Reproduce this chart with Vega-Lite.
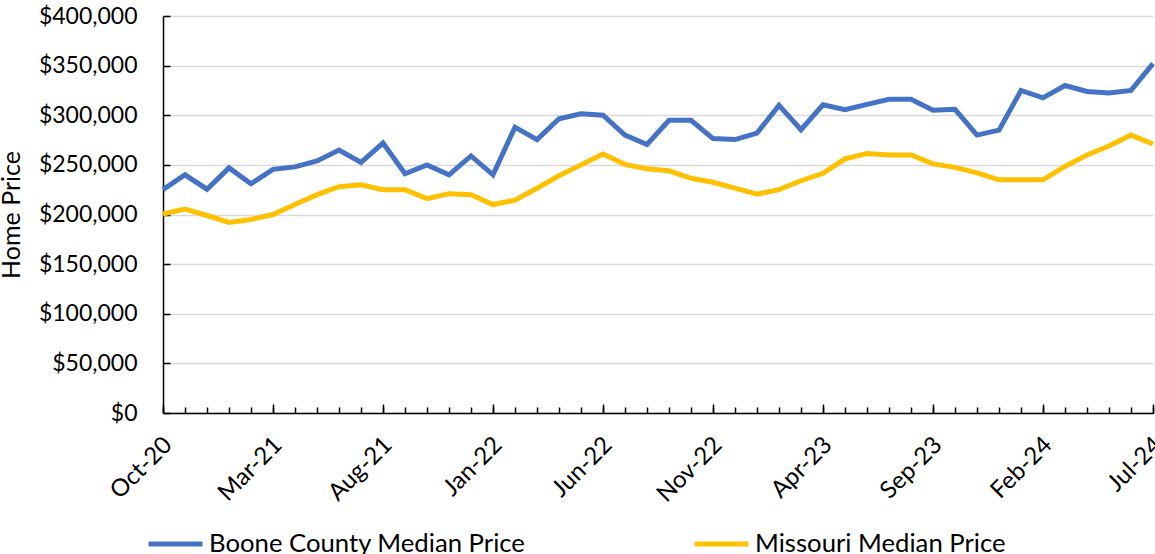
{
  "$schema": "https://vega.github.io/schema/vega-lite/v6.json",
  "autosize": "none",
  "width": 990,
  "height": 397,
  "padding": {"left": 163, "top": 16, "right": 2, "bottom": 141},
  "background": "white",
  "config": {
    "view": {"stroke": null},
    "font": "Lato",
    "axis": {"labelFont": "Lato", "titleFont": "Lato", "labelColor": "#000000", "titleColor": "#000000"}
  },
  "data": {"values": [
    {"month": "Oct-20", "series": "Boone County Median Price", "price": 225000},
    {"month": "Nov-20", "series": "Boone County Median Price", "price": 240000},
    {"month": "Dec-20", "series": "Boone County Median Price", "price": 225500},
    {"month": "Jan-21", "series": "Boone County Median Price", "price": 247000},
    {"month": "Feb-21", "series": "Boone County Median Price", "price": 231000},
    {"month": "Mar-21", "series": "Boone County Median Price", "price": 245500},
    {"month": "Apr-21", "series": "Boone County Median Price", "price": 248000},
    {"month": "May-21", "series": "Boone County Median Price", "price": 254000},
    {"month": "Jun-21", "series": "Boone County Median Price", "price": 265000},
    {"month": "Jul-21", "series": "Boone County Median Price", "price": 252500},
    {"month": "Aug-21", "series": "Boone County Median Price", "price": 272000},
    {"month": "Sep-21", "series": "Boone County Median Price", "price": 241000},
    {"month": "Oct-21", "series": "Boone County Median Price", "price": 250000},
    {"month": "Nov-21", "series": "Boone County Median Price", "price": 240000},
    {"month": "Dec-21", "series": "Boone County Median Price", "price": 259000},
    {"month": "Jan-22", "series": "Boone County Median Price", "price": 240000},
    {"month": "Feb-22", "series": "Boone County Median Price", "price": 288000},
    {"month": "Mar-22", "series": "Boone County Median Price", "price": 275500},
    {"month": "Apr-22", "series": "Boone County Median Price", "price": 296500},
    {"month": "May-22", "series": "Boone County Median Price", "price": 301500},
    {"month": "Jun-22", "series": "Boone County Median Price", "price": 300000},
    {"month": "Jul-22", "series": "Boone County Median Price", "price": 280000},
    {"month": "Aug-22", "series": "Boone County Median Price", "price": 270500},
    {"month": "Sep-22", "series": "Boone County Median Price", "price": 295000},
    {"month": "Oct-22", "series": "Boone County Median Price", "price": 295000},
    {"month": "Nov-22", "series": "Boone County Median Price", "price": 276500},
    {"month": "Dec-22", "series": "Boone County Median Price", "price": 275500},
    {"month": "Jan-23", "series": "Boone County Median Price", "price": 282000},
    {"month": "Feb-23", "series": "Boone County Median Price", "price": 310000},
    {"month": "Mar-23", "series": "Boone County Median Price", "price": 285500},
    {"month": "Apr-23", "series": "Boone County Median Price", "price": 310500},
    {"month": "May-23", "series": "Boone County Median Price", "price": 305500},
    {"month": "Jun-23", "series": "Boone County Median Price", "price": 311000},
    {"month": "Jul-23", "series": "Boone County Median Price", "price": 316000},
    {"month": "Aug-23", "series": "Boone County Median Price", "price": 316000},
    {"month": "Sep-23", "series": "Boone County Median Price", "price": 305000},
    {"month": "Oct-23", "series": "Boone County Median Price", "price": 306000},
    {"month": "Nov-23", "series": "Boone County Median Price", "price": 280000},
    {"month": "Dec-23", "series": "Boone County Median Price", "price": 285000},
    {"month": "Jan-24", "series": "Boone County Median Price", "price": 325000},
    {"month": "Feb-24", "series": "Boone County Median Price", "price": 317500},
    {"month": "Mar-24", "series": "Boone County Median Price", "price": 330000},
    {"month": "Apr-24", "series": "Boone County Median Price", "price": 324000},
    {"month": "May-24", "series": "Boone County Median Price", "price": 322500},
    {"month": "Jun-24", "series": "Boone County Median Price", "price": 325000},
    {"month": "Jul-24", "series": "Boone County Median Price", "price": 352000},
    {"month": "Oct-20", "series": "Missouri Median Price", "price": 200500},
    {"month": "Nov-20", "series": "Missouri Median Price", "price": 205500},
    {"month": "Dec-20", "series": "Missouri Median Price", "price": 199000},
    {"month": "Jan-21", "series": "Missouri Median Price", "price": 192000},
    {"month": "Feb-21", "series": "Missouri Median Price", "price": 195000},
    {"month": "Mar-21", "series": "Missouri Median Price", "price": 200000},
    {"month": "Apr-21", "series": "Missouri Median Price", "price": 210000},
    {"month": "May-21", "series": "Missouri Median Price", "price": 220000},
    {"month": "Jun-21", "series": "Missouri Median Price", "price": 228000},
    {"month": "Jul-21", "series": "Missouri Median Price", "price": 230000},
    {"month": "Aug-21", "series": "Missouri Median Price", "price": 225000},
    {"month": "Sep-21", "series": "Missouri Median Price", "price": 225000},
    {"month": "Oct-21", "series": "Missouri Median Price", "price": 216000},
    {"month": "Nov-21", "series": "Missouri Median Price", "price": 221000},
    {"month": "Dec-21", "series": "Missouri Median Price", "price": 220000},
    {"month": "Jan-22", "series": "Missouri Median Price", "price": 210000},
    {"month": "Feb-22", "series": "Missouri Median Price", "price": 214500},
    {"month": "Mar-22", "series": "Missouri Median Price", "price": 226500},
    {"month": "Apr-22", "series": "Missouri Median Price", "price": 239000},
    {"month": "May-22", "series": "Missouri Median Price", "price": 250000},
    {"month": "Jun-22", "series": "Missouri Median Price", "price": 261000},
    {"month": "Jul-22", "series": "Missouri Median Price", "price": 250500},
    {"month": "Aug-22", "series": "Missouri Median Price", "price": 246000},
    {"month": "Sep-22", "series": "Missouri Median Price", "price": 244000},
    {"month": "Oct-22", "series": "Missouri Median Price", "price": 236500},
    {"month": "Nov-22", "series": "Missouri Median Price", "price": 232500},
    {"month": "Dec-22", "series": "Missouri Median Price", "price": 226500},
    {"month": "Jan-23", "series": "Missouri Median Price", "price": 220500},
    {"month": "Feb-23", "series": "Missouri Median Price", "price": 225000},
    {"month": "Mar-23", "series": "Missouri Median Price", "price": 234000},
    {"month": "Apr-23", "series": "Missouri Median Price", "price": 241500},
    {"month": "May-23", "series": "Missouri Median Price", "price": 256000},
    {"month": "Jun-23", "series": "Missouri Median Price", "price": 261500},
    {"month": "Jul-23", "series": "Missouri Median Price", "price": 260000},
    {"month": "Aug-23", "series": "Missouri Median Price", "price": 260000},
    {"month": "Sep-23", "series": "Missouri Median Price", "price": 251000},
    {"month": "Oct-23", "series": "Missouri Median Price", "price": 247500},
    {"month": "Nov-23", "series": "Missouri Median Price", "price": 242000},
    {"month": "Dec-23", "series": "Missouri Median Price", "price": 235000},
    {"month": "Jan-24", "series": "Missouri Median Price", "price": 235000},
    {"month": "Feb-24", "series": "Missouri Median Price", "price": 235000},
    {"month": "Mar-24", "series": "Missouri Median Price", "price": 248500},
    {"month": "Apr-24", "series": "Missouri Median Price", "price": 260000},
    {"month": "May-24", "series": "Missouri Median Price", "price": 269000},
    {"month": "Jun-24", "series": "Missouri Median Price", "price": 280000},
    {"month": "Jul-24", "series": "Missouri Median Price", "price": 271000}
  ]},
  "encoding": {
    "y": {
      "field": "price",
      "type": "quantitative",
      "scale": {"domain": [0, 400000], "nice": false},
      "axis": {
        "title": "Home Price",
        "titleFontSize": 25,
        "titleFontWeight": "normal",
        "titlePadding": 14,
        "values": [0, 50000, 100000, 150000, 200000, 250000, 300000, 350000, 400000],
        "format": "$,.0f",
        "labelFontSize": 23,
        "labelPadding": 33,
        "tickSize": -7,
        "tickColor": "#000000",
        "tickWidth": 1.5,
        "domainColor": "#000000",
        "domainWidth": 1.5,
        "gridColor": "#D9D9D9",
        "gridWidth": 1.5
      }
    },
    "color": {
      "field": "series",
      "type": "nominal",
      "scale": {"domain": ["Boone County Median Price", "Missouri Median Price"], "range": ["#4472C4", "#FFC000"]},
      "legend": {
        "title": null,
        "orient": "none",
        "legendX": -17,
        "legendY": 498,
        "direction": "horizontal",
        "symbolType": "stroke",
        "symbolSize": 2900,
        "symbolStrokeWidth": 5,
        "labelFontSize": 25.7,
        "labelFont": "Lato",
        "labelColor": "#000000",
        "labelOffset": 4,
        "labelLimit": 500,
        "columnPadding": 158,
        "padding": 0
      }
    }
  },
  "layer": [
    {
      "mark": {"type": "line", "strokeWidth": 5, "strokeJoin": "miter", "strokeCap": "butt", "opacity": 0},
      "encoding": {
        "x": {
          "field": "month",
          "type": "ordinal",
          "sort": null,
          "scale": {"type": "point", "padding": 0},
          "axis": {
            "orient": "bottom",
            "title": null,
            "values": ["Oct-20", "Mar-21", "Aug-21", "Jan-22", "Jun-22", "Nov-22", "Apr-23", "Sep-23", "Feb-24", "Jul-24"],
            "labels": false,
            "domain": false,
            "tickSize": -9,
            "tickColor": "#000000",
            "tickWidth": 1.5,
            "grid": false
          }
        }
      }
    },
    {
      "mark": {"type": "line", "strokeWidth": 5, "strokeJoin": "miter", "strokeCap": "butt"},
      "encoding": {
        "x": {
          "field": "month",
          "type": "ordinal",
          "sort": null,
          "scale": {"type": "point", "padding": 0},
          "axis": {
            "orient": "bottom",
            "title": null,
            "labelAngle": -45,
            "labelFontSize": 24,
            "labelAlign": "right",
            "labelBaseline": "middle",
            "labelPadding": 34,
            "labelOffset": 5,
            "labelExpr": "indexof(['Oct-20','Mar-21','Aug-21','Jan-22','Jun-22','Nov-22','Apr-23','Sep-23','Feb-24','Jul-24'], datum.value) >= 0 ? datum.value : ''",
            "labelOverlap": false,
            "tickSize": -6,
            "tickColor": "#000000",
            "tickWidth": 1.5,
            "domainColor": "#000000",
            "domainWidth": 1.5,
            "grid": false
          }
        }
      }
    }
  ],
  "resolve": {"axis": {"x": "independent"}}
}
